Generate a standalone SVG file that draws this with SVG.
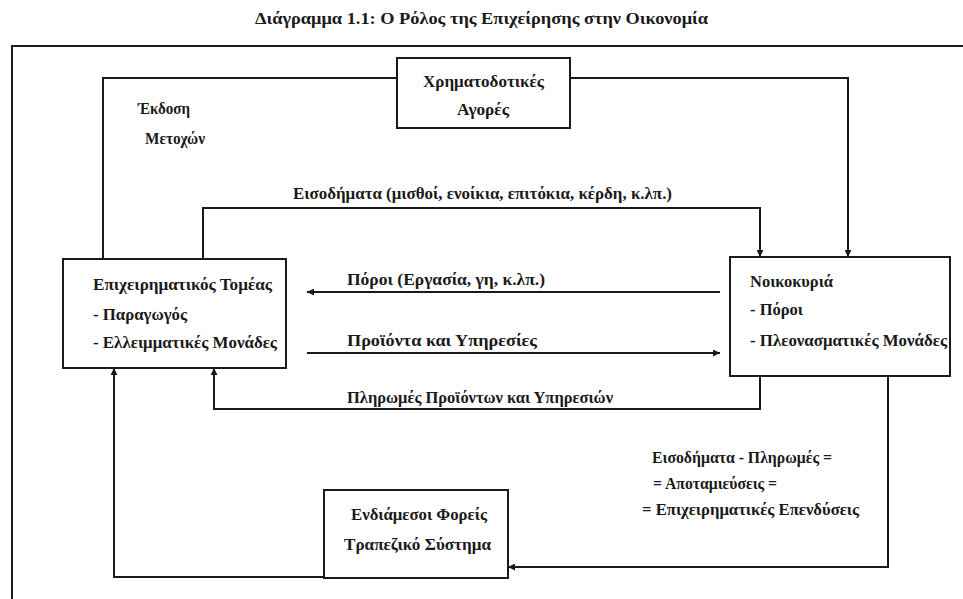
<svg xmlns="http://www.w3.org/2000/svg" width="963" height="599" viewBox="0 0 963 599">
<defs>
<style>
.t{font-family:"Liberation Serif","Times New Roman",serif;font-weight:bold;font-size:16.5px;fill:#1a1a1a}
.ttl{font-size:16px}
.box{fill:none;stroke:#1a1a1a;stroke-width:2}
.ln{fill:none;stroke:#1a1a1a;stroke-width:2}
</style>
<marker id="ah" viewBox="0 0 10 10" refX="10" refY="5" markerWidth="9" markerHeight="7" markerUnits="userSpaceOnUse" orient="auto">
<path d="M0,0 L10,5 L0,10 z" fill="#1a1a1a"/>
</marker>
</defs>
<rect x="0" y="0" width="963" height="599" fill="#ffffff"/>
<text class="t ttl" x="255" y="24" textLength="453" lengthAdjust="spacingAndGlyphs">Διάγραμμα 1.1: Ο Ρόλος της Επιχείρησης στην Οικονομία</text>
<path class="ln" d="M12,599 V46 H963"/>
<g id="connectors">
<path class="ln" d="M103,259 V78 H397"/>
<path class="ln" d="M570,78 H848 V257" marker-end="url(#ah)"/>
<path class="ln" d="M203,259 V208 H760 V257" marker-end="url(#ah)"/>
<path class="ln" d="M720,292 H307" marker-end="url(#ah)"/>
<path class="ln" d="M307,353 H720" marker-end="url(#ah)"/>
<path class="ln" d="M760,376 V409 H214 V368" marker-end="url(#ah)"/>
<path class="ln" d="M888,376 V567 H508" marker-end="url(#ah)"/>
<path class="ln" d="M324,577 H114 V368" marker-end="url(#ah)"/>
<text class="t" x="138" y="114" textLength="52" lengthAdjust="spacingAndGlyphs">Έκδοση</text>
<text class="t" x="145" y="144" textLength="60" lengthAdjust="spacingAndGlyphs">Μετοχών</text>
<text class="t" x="293" y="199" textLength="379" lengthAdjust="spacingAndGlyphs">Εισοδήματα (μισθοί, ενοίκια, επιτόκια, κέρδη, κ.λπ.)</text>
<text class="t" x="347" y="285" textLength="198" lengthAdjust="spacingAndGlyphs">Πόροι (Εργασία, γη, κ.λπ.)</text>
<text class="t" x="347" y="346" textLength="190" lengthAdjust="spacingAndGlyphs">Προϊόντα και Υπηρεσίες</text>
<text class="t" x="347" y="403" textLength="266" lengthAdjust="spacingAndGlyphs">Πληρωμές Προϊόντων και Υπηρεσιών</text>
<text class="t" x="652" y="463" textLength="180" lengthAdjust="spacingAndGlyphs">Εισοδήματα - Πληρωμές =</text>
<text class="t" x="653" y="489" textLength="124" lengthAdjust="spacingAndGlyphs">= Αποταμιεύσεις =</text>
<text class="t" x="642" y="515" textLength="217" lengthAdjust="spacingAndGlyphs">= Επιχειρηματικές Επενδύσεις</text>
</g>
<g id="markets">
<rect class="box" x="397" y="58" width="173" height="70"/>
<text class="t" x="423" y="87" textLength="121" lengthAdjust="spacingAndGlyphs">Χρηματοδοτικές</text>
<text class="t" x="457" y="115" textLength="52" lengthAdjust="spacingAndGlyphs">Αγορές</text>
</g>
<g id="business">
<rect class="box" x="63" y="259" width="223" height="109"/>
<text class="t" x="93" y="290" textLength="179" lengthAdjust="spacingAndGlyphs">Επιχειρηματικός Τομέας</text>
<text class="t" x="93" y="320" textLength="94" lengthAdjust="spacingAndGlyphs">- Παραγωγός</text>
<text class="t" x="93" y="348" textLength="184" lengthAdjust="spacingAndGlyphs">- Ελλειμματικές Μονάδες</text>
</g>
<g id="households">
<rect class="box" x="730" y="257" width="220" height="119"/>
<text class="t" x="750" y="287" textLength="83" lengthAdjust="spacingAndGlyphs">Νοικοκυριά</text>
<text class="t" x="750" y="315" textLength="53" lengthAdjust="spacingAndGlyphs">- Πόροι</text>
<text class="t" x="750" y="346" textLength="197" lengthAdjust="spacingAndGlyphs">- Πλεονασματικές Μονάδες</text>
</g>
<g id="intermediaries">
<rect class="box" x="324" y="490" width="184" height="88"/>
<text class="t" x="351" y="520" textLength="136" lengthAdjust="spacingAndGlyphs">Ενδιάμεσοι Φορείς</text>
<text class="t" x="344" y="550" textLength="147" lengthAdjust="spacingAndGlyphs">Τραπεζικό Σύστημα</text>
</g>
</svg>
